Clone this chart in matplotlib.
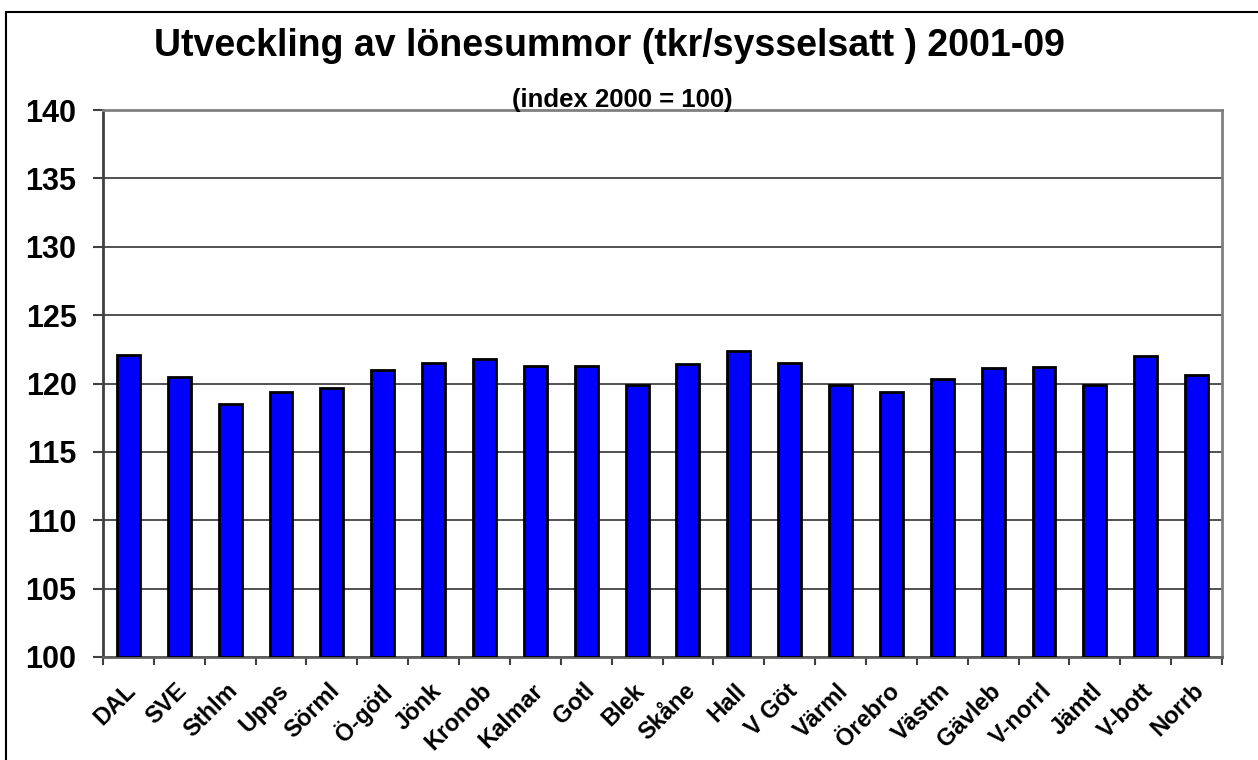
import matplotlib.pyplot as plt
import matplotlib.transforms as mtransforms
from matplotlib.patches import Rectangle
import numpy as np

regions = ["DAL", "SVE", "Sthlm", "Upps", "Sörml", "Ö-götl", "Jönk", "Kronob",
           "Kalmar", "Gotl", "Blek", "Skåne", "Hall", "V Göt", "Värml", "Örebro",
           "Västm", "Gävleb", "V-norrl", "Jämtl", "V-bott", "Norrb"]
index_values = [122.1, 120.5, 118.5, 119.4, 119.7, 121.0, 121.5, 121.8,
                121.3, 121.3, 119.9, 121.4, 122.4, 121.5, 119.9, 119.4,
                120.3, 121.1, 121.2, 119.9, 122.0, 120.6]
y_ticks = [100, 105, 110, 115, 120, 125, 130, 135, 140]

plt.rcParams['font.family'] = ['Liberation Sans', 'DejaVu Sans']

W, H = 1258, 760
fig = plt.figure(figsize=(W / 100, H / 100), dpi=100)
ax = fig.add_axes([103 / W, 1 - 657 / H, (1222 - 103) / W, (657 - 110) / H])

x = np.arange(len(regions))
ax.bar(x, np.array(index_values) - 100, bottom=100, width=0.45,
       color='#0000FF', edgecolor='black', linewidth=2, zorder=3)

ax.set_xlim(-0.5, len(regions) - 0.5)
ax.set_ylim(100, 140)
ax.set_yticks(y_ticks)
ax.set_yticklabels([str(v) for v in y_ticks], fontsize=22, fontweight='bold')
ax.tick_params(axis='y', length=7, width=1.5, color='#404040', pad=12)
ax.yaxis.grid(True, color='#333333', linewidth=1.2, zorder=0)

ax.set_xticks(x)
ax.set_xticks(np.arange(-0.5, len(regions)), minor=True)
ax.tick_params(axis='x', which='major', length=0, pad=16)
ax.tick_params(axis='x', which='minor', length=6, width=1.5, color='#404040')
labels = ax.set_xticklabels(regions, rotation=45, ha='right', va='top',
                            rotation_mode='anchor', fontsize=17, fontweight='bold')
offset = mtransforms.ScaledTranslation(-4 / 100, 0, fig.dpi_scale_trans)
for lab in labels:
    lab.set_transform(lab.get_transform() + offset)

for side in ['top', 'right']:
    ax.spines[side].set_color('#808080')
    ax.spines[side].set_linewidth(2)
ax.spines['left'].set_color('#404040')
ax.spines['left'].set_linewidth(2)
ax.spines['bottom'].set_color('#606060')
ax.spines['bottom'].set_linewidth(2)

fig.text(609 / W, 1 - 46 / H, "Utveckling av lönesummor (tkr/sysselsatt ) 2001-09",
         ha='center', va='center', fontsize=27, fontweight='bold')
fig.text(622 / W, 1 - 100 / H, "(index 2000 = 100)", ha='center', va='center',
         fontsize=18.5, fontweight='bold')

# outer frame: only left and top edges are visible in the original
fig.patches.append(Rectangle((6 / W, -0.05), 1.1, 1.05 - 12 / H,
                             transform=fig.transFigure, fill=False,
                             edgecolor='black', linewidth=1.5))

plt.savefig('out.png', dpi=100)
